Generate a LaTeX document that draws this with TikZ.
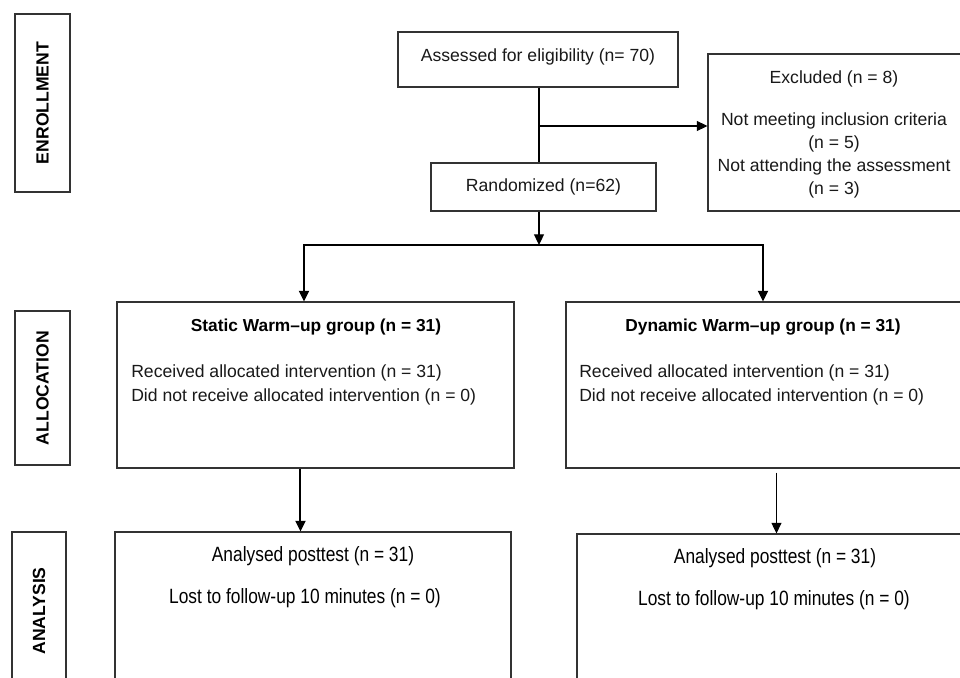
\documentclass[tikz,border=0pt]{standalone}
\usepackage{fontspec}
\setmainfont{Liberation Sans}
\usetikzlibrary{arrows.meta,fit}
\begin{document}
\begin{tikzpicture}[x=0.75pt,y=-0.75pt,
  box/.style={draw=black!80, line width=0.8pt, rectangle, inner sep=0pt},
  txt/.style={font=\fontsize{13.2}{17.25}\selectfont, inner sep=0pt, text=black!90},
  ttl/.style={font=\bfseries\fontsize{13.0}{15}\selectfont, inner sep=0pt},
  side/.style={font=\bfseries\fontsize{13.2}{15}\selectfont, inner sep=0pt, rotate=90},
  narrow/.style={font=\fontsize{15.5}{18}\selectfont, inner sep=0pt, xscale=0.84, transform shape},
  arr/.style={-{Triangle[length=8pt,width=7.5pt]}, line width=0.8pt},
  arrthick/.style={-{Triangle[length=8pt,width=7.5pt]}, line width=1.5pt},
]
\useasboundingbox[fill=white] (0,0) rectangle (960,678);

% side labels
\node[box, fit={(15,14) (70,192)}] (enr) {};
\node[side] (enrt) at (enr) {ENROLLMENT};
\node[box, fit={(15,311) (70,465)}] (alc) {};
\node[side] (alct) at (alc) {ALLOCATION};
\node[box, fit={(12,532) (66,690)}] (ana) {};
\node[side] (anat) at (39,611) {ANALYSIS};

% enrollment
\node[box, fit={(398,32) (678,87)}] (assess) {};
\node[txt] (assesst) at (538,57) {Assessed for eligibility (n= 70)};
\node[box, fit={(431,163) (656,211)}] (rand) {};
\node[txt] (randt) at (543.5,187) {Randomized (n=62)};
\node[box, fit={(708,54) (962,211)}] (excl) {};
\node[txt, align=center] (exclt) at (834,134) {Excluded (n = 8)\\[14.25pt]
  Not meeting inclusion criteria\\ (n = 5)\\ Not attending the assessment\\ (n = 3)};

% allocation
\node[box, fit={(117,302) (514,468)}] (stat) {};
\node[ttl] (statt) at (316,327) {Static Warm--up group (n = 31)};
\node[txt, anchor=west] (stat1) at (131,373) {Received allocated intervention (n = 31)};
\node[txt, anchor=west] (stat2) at (131,397) {Did not receive allocated intervention (n = 0)};

\node[box, fit={(566,302) (961,468)}] (dyn) {};
\node[ttl] (dynt) at (763,327) {Dynamic Warm--up group (n = 31)};
\node[txt, anchor=west] (dyn1) at (579,373) {Received allocated intervention (n = 31)};
\node[txt, anchor=west] (dyn2) at (579,397) {Did not receive allocated intervention (n = 0)};

% analysis
\node[box, fit={(115,532) (511,690)}] (an1) {};
\node[narrow] (an1a) at (313,556) {Analysed posttest (n = 31)};
\node[narrow] (an1b) at (305,598) {Lost to follow-up 10 minutes (n = 0)};
\node[box, fit={(577,534) (972,690)}] (an2) {};
\node[narrow] (an2a) at (775,558) {Analysed posttest (n = 31)};
\node[narrow] (an2b) at (774,600) {Lost to follow-up 10 minutes (n = 0)};

% connectors
\coordinate (br) at (539,126);
\coordinate (bl) at (304,245);
\coordinate (brt) at (763,245);
\draw[line width=0.8pt] ([xshift=0.75pt]assess.south) -- ([xshift=0.75pt]assess.south |- rand.north);
\draw[arr] (br) -- (br -| excl.west);
\draw[arr] ([xshift=0.75pt]assess.south |- rand.south) -- ([xshift=0.75pt]assess.south |- bl);
\draw[line width=1.5pt] ([xshift=-0.5pt]bl) -- ([xshift=0.5pt]brt);
\draw[arrthick] (bl) -- (bl |- stat.north);
\draw[arrthick] (brt) -- (brt |- dyn.north);
\draw[arrthick] ([xshift=138pt]stat.south west) -- ([xshift=138pt]stat.south west |- an1.north);
\draw[arr] ([xshift=158.25pt,yshift=-3pt]dyn.south west) -- ([xshift=158.25pt]dyn.south west |- an2.north);
\end{tikzpicture}
\end{document}
